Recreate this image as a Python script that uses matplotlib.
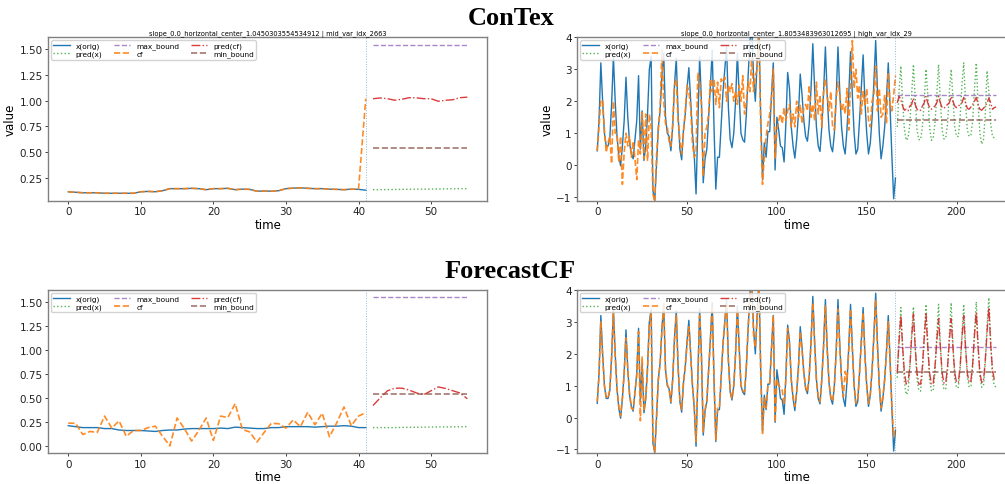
import numpy as np
import matplotlib
matplotlib.use("Agg")
import matplotlib.pyplot as plt

# ---- ConTex, mid variance sample (left top) ----
tl_x_orig = [0.114, 0.11, 0.105, 0.105, 0.105, 0.10, 0.10, 0.10, 0.10, 0.10,
             0.115, 0.118, 0.115, 0.125, 0.145, 0.145, 0.145, 0.148, 0.145, 0.135,
             0.145, 0.145, 0.148, 0.135, 0.14, 0.138, 0.12, 0.122, 0.12, 0.125,
             0.145, 0.15, 0.153, 0.148, 0.145, 0.145, 0.14, 0.138, 0.135, 0.14,
             0.138, 0.13]
tl_cf = [0.114, 0.11, 0.105, 0.105, 0.105, 0.10, 0.10, 0.10, 0.10, 0.10,
         0.115, 0.118, 0.115, 0.125, 0.145, 0.145, 0.145, 0.148, 0.145, 0.135,
         0.145, 0.145, 0.148, 0.135, 0.14, 0.138, 0.12, 0.122, 0.12, 0.125,
         0.145, 0.15, 0.153, 0.148, 0.145, 0.145, 0.14, 0.138, 0.135, 0.14,
         0.14, 1.02]
tl_pred_x = [0.135, 0.135, 0.136, 0.137, 0.138, 0.139, 0.14, 0.14, 0.141, 0.142,
             0.143, 0.144, 0.145, 0.145]
tl_pred_cf = [1.02, 1.027, 1.02, 1.005, 1.015, 1.03, 1.028, 1.02, 1.02, 0.995,
              1.005, 1.01, 1.03, 1.035]
tl_max, tl_min = 1.545, 0.54

# ---- ConTex, high variance sample (right top) ----
x_orig_hv = [0.45, 1.4, 3.2, 2.0, 1.0, 0.6, 0.6, 0.85, 1.9, 3.4,
             2.0, 0.9, 0.3, -0.02, 0.6, 1.4, 2.75, 1.5, 0.7, 0.35,
             0.2, 0.8, 1.4, 2.8, 0.5, 1.7, 0.15, 0.6, 1.6, 3.0,
             3.4, -0.8, -1.1, 0.0, 1.2, 1.7, 2.8, 3.5, 1.5, 1.0,
             0.9, 0.45, 1.2, 2.5, 3.35, 1.6, 0.5, 0.17, 1.1, 1.6,
             2.4, 3.05, 2.0, 1.0, 0.3, -0.9, 1.2, 3.4, 2.0, -0.55,
             0.2, 0.5, 1.5, 2.5, 3.6, 1.2, -0.75, 0.25, 0.25, 1.3,
             2.3, 3.0, 3.7, 1.8, 0.8, 0.55, 1.0, 2.0, 3.5, 2.2,
             1.0, 0.8, 0.72, 1.6, 2.8, 3.9, 4.3, 2.8, 2.0, 3.2,
             4.3, 1.5, -0.45, 0.7, 0.25, 1.05, 1.05, 2.2, 3.2, -0.15,
             1.5, 1.1, 0.6, 0.55, 0.1, 1.3, 2.9, 2.4, 1.2, 0.6,
             0.22, 0.8, 1.6, 2.85, 2.2, 1.4, 0.9, 0.75, 1.3, 2.4,
             3.8, 2.4, 1.2, 0.6, 0.43, 1.2, 2.3, 3.7, 2.2, 1.1,
             0.6, 0.42, 1.0, 2.1, 3.7, 2.3, 1.2, 0.6, 0.35, 1.1,
             2.2, 3.55, 2.2, 1.0, 0.35, 0.5, 1.4, 2.4, 3.45, 2.0,
             1.0, 0.35, 0.7, 1.5, 2.6, 3.9, 2.3, 1.0, 0.2, 0.6,
             1.2, 2.1, 3.2, 1.8, 0.3, -1.05, -0.4]
tr_cf = [0.45, 1.2, 2.05, 2.0, 1.1, 0.4, 0.7, 0.9, 0.05, 2.0,
         1.0, 1.0, 0.1, 0.9, -0.6, 0.4, 1.0, 0.6, 0.9, 0.25,
         0.75, 0.2, -0.45, 0.8, 0.35, 1.65, 0.2, 1.6, 0.15, 1.6,
         1.2, -0.9, -1.15, 0.3, 1.1, 1.8, 3.6, 2.0, 1.3, 1.2,
         0.75, 0.6, 1.3, 2.5, 2.7, 1.4, 0.8, 0.35, 1.0, 1.7,
         2.5, 2.3, 1.8, 0.65, 0.25, 0.35, 2.9, 2.6, 1.9, -0.35,
         1.0, 1.2, 1.6, 2.7, 2.3, 2.7, 1.9, 2.6, 1.8, 2.7,
         2.6, 2.75, 2.0, 2.5, 2.3, 2.55, 2.0, 2.3, 1.9, 2.5,
         2.0, 2.8, 1.6, 2.0, 2.6, 2.3, 3.4, 2.3, 2.8, 3.0,
         4.2, 1.2, -0.6, 0.3, 0.9, 1.3, 1.6, 2.1, 3.0, 0.2,
         1.1, 1.4, 1.6, 1.3, 1.8, 1.4, 1.7, 1.9, 1.2, 1.6,
         1.2, 2.0, 1.5, 1.9, 1.3, 1.8, 1.9, 1.7, 2.5, 1.5,
         1.9, 1.4, 2.6, 1.6, 2.2, 1.2, 2.3, 2.7, 2.2, 1.7,
         2.3, 1.2, 1.1, 2.1, 2.6, 2.2, 1.7, 1.9, 1.6, 2.4,
         1.1, 2.6, 3.9, 2.4, 3.0, 2.1, 2.5, 1.6, 2.3, 1.9,
         2.4, 1.4, 1.2, 2.0, 2.2, 3.1, 1.7, 2.4, 1.5, 1.6,
         2.2, 1.3, 2.9, 1.9, 1.7, 2.2, 2.8]
tr_pred_x = [1.2, 2.3, 3.1, 2.0, 1.1, 0.78, 0.85, 1.3, 2.2, 3.15,
             2.1, 1.1, 0.8, 0.8, 1.2, 2.0, 3.0, 2.2, 1.2, 0.78,
             0.85, 1.3, 2.2, 3.15, 2.0, 1.1, 0.82, 0.85, 1.3, 2.3,
             3.0, 2.1, 1.2, 0.9, 0.9, 1.5, 2.5, 3.2, 2.0, 1.1,
             0.9, 0.95, 1.4, 2.4, 3.2, 1.9, 1.0, 0.66, 0.8, 1.6,
             2.95, 2.3, 1.3, 0.9, 0.85, 0.8]
tr_pred_cf = [1.95, 2.15, 2.05, 1.85, 1.72, 1.75, 1.7, 1.85, 1.9, 2.1,
              1.9, 1.75, 1.7, 1.72, 1.85, 1.95, 2.15, 1.95, 1.8, 1.75,
              1.8, 1.85, 1.95, 2.15, 1.95, 1.8, 1.78, 1.85, 1.9, 1.95,
              2.15, 2.0, 1.85, 1.8, 1.85, 1.9, 1.95, 2.12, 1.95, 1.78,
              1.75, 1.82, 1.9, 2.0, 2.12, 1.9, 1.75, 1.72, 1.78, 1.85,
              1.95, 2.1, 1.95, 1.75, 1.8, 1.82]
tr_max, tr_min = 2.18, 1.40

# ---- ForecastCF, mid variance sample (left bottom) ----
bl_x_orig = [0.21, 0.20, 0.19, 0.19, 0.19, 0.18, 0.18, 0.165, 0.16, 0.16,
             0.16, 0.155, 0.15, 0.16, 0.165, 0.165, 0.175, 0.18, 0.18, 0.18,
             0.18, 0.185, 0.18, 0.195, 0.19, 0.185, 0.18, 0.18, 0.19, 0.19,
             0.20, 0.20, 0.20, 0.20, 0.195, 0.20, 0.205, 0.205, 0.21, 0.205,
             0.19, 0.19]
bl_cf = [0.236, 0.236, 0.118, 0.15, 0.14, 0.31, 0.185, 0.26, 0.10, 0.16,
         0.16, 0.19, 0.205, 0.10, 0.0, 0.29, 0.18, 0.05, 0.16, 0.29,
         0.057, 0.31, 0.295, 0.44, 0.17, 0.145, 0.04, 0.14, 0.236, 0.23,
         0.185, 0.27, 0.20, 0.35, 0.22, 0.34, 0.095, 0.24, 0.405, 0.21,
         0.31, 0.345]
bl_pred_x = [0.19, 0.19, 0.19, 0.19, 0.192, 0.193, 0.194, 0.195, 0.196, 0.197,
             0.197, 0.198, 0.199, 0.20]
bl_pred_cf = [0.42, 0.50, 0.573, 0.60, 0.60, 0.58, 0.55, 0.533, 0.573, 0.613,
              0.597, 0.573, 0.55, 0.49]
bl_max, bl_min = 1.544, 0.543

# ---- ForecastCF, high variance sample (right bottom) ----
br_cf = [0.5, 1.3, 3.0, 1.9, 1.0, 0.65, 0.6, 0.9, 1.9, 3.3,
         1.9, 0.9, 0.35, 0.05, 0.6, 1.4, 2.5, 1.5, 0.75, 0.3,
         0.25, 0.8, 1.3, 2.7, -0.1, 1.9, 0.2, 0.6, 1.5, 2.9,
         3.3, -0.75, -1.1, 0.05, 1.2, 1.7, 2.7, 3.6, 1.5, 1.05,
         0.9, 0.5, 1.2, 2.4, 3.2, 1.6, 0.55, 0.25, 1.1, 1.6,
         2.3, 2.85, 1.9, 1.0, 0.35, -0.75, 1.2, 3.2, 1.9, -0.45,
         0.25, 0.55, 1.5, 2.4, 3.5, 1.2, -0.7, 0.3, 0.3, 1.3,
         2.3, 3.0, 3.6, 1.8, 0.85, 0.6, 1.0, 2.0, 3.4, 2.2,
         1.0, 0.85, 0.8, 1.6, 2.8, 3.8, 4.2, 2.6, 2.2, 3.1,
         4.2, 1.4, -0.5, 0.6, 0.3, 1.0, 1.1, 2.1, 3.2, -0.15,
         1.2, 1.0, 0.95, 0.85, 0.4, 1.2, 2.8, 2.3, 1.2, 0.65,
         0.35, 0.8, 1.5, 2.7, 2.1, 1.4, 0.95, 0.8, 1.3, 2.3,
         3.6, 2.3, 1.2, 0.65, 0.5, 1.2, 2.2, 3.5, 2.1, 1.1,
         0.65, 0.5, 1.0, 2.0, 3.4, 2.2, 1.2, 0.65, 1.45, 1.1,
         2.1, 3.4, 2.1, 1.0, 0.45, 0.55, 1.4, 2.3, 3.3, 1.9,
         1.0, 0.45, 0.75, 1.5, 2.5, 3.7, 2.2, 1.0, 0.3, 0.65,
         1.2, 2.0, 3.0, 1.8, 0.4, -0.6, -0.3]
br_pred_x = [1.25, 2.5, 3.45, 2.2, 1.1, 0.72, 0.8, 1.5, 2.6, 3.47,
             2.2, 1.2, 0.85, 0.83, 1.4, 2.5, 3.55, 2.3, 1.2, 0.85,
             0.83, 1.4, 2.6, 3.55, 2.3, 1.2, 0.88, 0.9, 1.5, 2.6,
             3.6, 2.3, 1.2, 0.93, 0.95, 1.5, 2.6, 3.55, 2.3, 1.3,
             0.95, 0.99, 1.6, 2.7, 3.63, 2.3, 1.3, 0.95, 1.0, 1.7,
             2.9, 3.76, 2.4, 1.3, 1.0, 0.95]
br_pred_cf = [1.4, 2.4, 3.19, 2.2, 1.4, 1.05, 1.1, 1.6, 2.5, 3.25,
              2.2, 1.4, 1.05, 1.05, 1.6, 2.5, 3.25, 2.2, 1.4, 1.05,
              1.05, 1.6, 2.4, 3.1, 2.2, 1.4, 1.08, 1.1, 1.6, 2.4,
              3.1, 2.2, 1.4, 1.1, 1.1, 1.6, 2.5, 3.2, 2.2, 1.4,
              1.1, 1.15, 1.7, 2.6, 3.3, 2.2, 1.4, 1.1, 1.15, 1.8,
              2.7, 3.45, 2.3, 1.5, 1.2, 1.15]
br_max, br_min = 2.215, 1.42

title_tl = "slope_0.0_horizontal_center_1.0450303554534912 | mid_var_idx_2663"
title_tr = "slope_0.0_horizontal_center_1.8053483963012695 | high_var_idx_29"


def draw_panel(ax, x_orig, cf, pred_x, pred_cf, max_b, min_b,
               title=None, ylabel=True, ylim=None):
    n = len(x_orig)
    t_hist = np.arange(n)
    t_pred = np.arange(n, n + len(pred_x))
    ax.plot(t_hist, x_orig, color="#1f77b4", lw=1.0, label="x(orig)")
    ax.plot(t_pred, pred_x, color="#2ca02c", ls=":", lw=1.0, alpha=0.8,
            label="pred(x)")
    ax.plot(t_pred, np.full(len(t_pred), max_b), color="#9467bd", ls="--",
            lw=1.0, alpha=0.8, label="max_bound")
    ax.plot(t_hist, cf, color="#ff7f0e", ls="--", lw=1.2, alpha=0.9, label="cf")
    ax.plot(t_pred, pred_cf, color="#d62728", ls="-.", lw=1.0, alpha=0.9,
            label="pred(cf)")
    ax.plot(t_pred, np.full(len(t_pred), min_b), color="#8c564b", ls="--",
            lw=1.2, alpha=0.8, label="min_bound")
    ax.axvline(n - 1, color="#1f77b4", ls=":", lw=0.7, alpha=0.5)
    if ylim is not None:
        ax.set_ylim(*ylim)
    if title:
        ax.set_title(title, fontsize=4.8, pad=2)
    ax.set_xlabel("time", fontsize=8.5, labelpad=1)
    if ylabel:
        ax.set_ylabel("value", fontsize=8.5, labelpad=2)
    ax.tick_params(labelsize=7.5, length=2.5, width=0.6, pad=1.5, colors="#222222")
    for s in ax.spines.values():
        s.set_color("#808080")
        s.set_linewidth(1.0)
    ax.legend(loc="upper left", ncol=3, fontsize=5.3, handlelength=2.2,
              columnspacing=1.6, labelspacing=0.2, borderpad=0.3,
              borderaxespad=0.4, framealpha=0.85)


fig = plt.figure(figsize=(10.05, 4.85), dpi=100)
W, H = 1005.0, 485.0


def place(left, top, right, bottom):
    return fig.add_axes([left / W, 1 - bottom / H, (right - left) / W, (bottom - top) / H])


ax_tl = place(48.3, 38.3, 487.3, 201.7)
ax_tr = place(577.3, 38.3, 1016.0, 201.7)
ax_bl = place(48.3, 291.0, 487.3, 454.3)
ax_br = place(577.3, 291.0, 1016.0, 454.3)

draw_panel(ax_tl, tl_x_orig, tl_cf, tl_pred_x, tl_pred_cf, tl_max, tl_min,
           title=title_tl)
draw_panel(ax_tr, x_orig_hv, tr_cf, tr_pred_x, tr_pred_cf, tr_max, tr_min,
           title=title_tr, ylim=(-1.11, 4.0))
draw_panel(ax_bl, bl_x_orig, bl_cf, bl_pred_x, bl_pred_cf, bl_max, bl_min,
           ylabel=False)
draw_panel(ax_br, x_orig_hv, br_cf, br_pred_x, br_pred_cf, br_max, br_min,
           ylabel=False, ylim=(-1.12, 4.0))

fig.text(511 / W, 1 - 25 / H, "ConTex", ha="center", va="baseline",
         fontsize=19, fontweight="bold", family="Liberation Serif")
fig.text(510 / W, 1 - 278 / H, "ForecastCF", ha="center", va="baseline",
         fontsize=19, fontweight="bold", family="Liberation Serif")

fig.savefig("out.png", dpi=100)
